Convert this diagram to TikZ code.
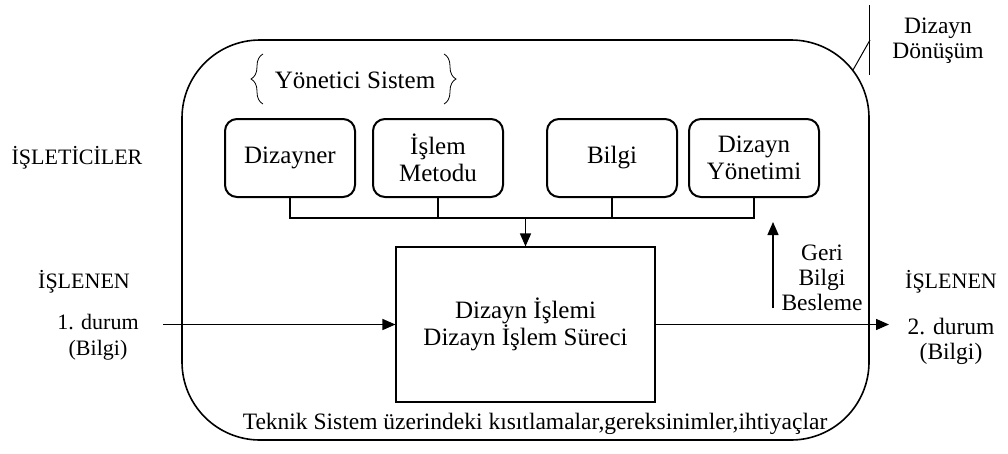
\documentclass[tikz,border=0pt]{standalone}
\usepackage{fontspec}
\setmainfont{Liberation Serif}
\usetikzlibrary{arrows.meta,decorations.pathreplacing}
\begin{document}
\begin{tikzpicture}[x=1pt,y=-1pt,
  every node/.style={font=\fontsize{22}{26}\selectfont, align=center, inner sep=0pt},
  big/.style={font=\fontsize{25}{27}\selectfont},
  mid/.style={font=\fontsize{23.5}{25}\selectfont},
  unitbox/.style={draw, big, line width=2pt, rounded corners=12pt, minimum width=130pt, minimum height=78pt},
  procbox/.style={draw, big, line width=1.1pt, minimum width=259pt, minimum height=155pt},
  frame/.style={draw, line width=1.6pt, rounded corners=78pt, minimum width=687pt, minimum height=400pt},
  link/.style={line width=1.4pt},
  flow/.style={line width=1.4pt, -{Triangle[length=13pt,width=11pt]}},
  curly/.style={decorate, line width=0.8pt, decoration={brace, amplitude=12pt}}]
\useasboundingbox (0,0) rectangle (1008,453);

% outer system boundary
\node[frame] (sys) at (525.5,240) {};

% managing system heading
\node[big] (mgr) at (355,80) {Yönetici Sistem};
\draw[curly] (263,104) -- (263,54);
\draw[curly] (444,54) -- (444,104);

% operators
\node[unitbox] (diz) at (290,158) {Dizayner};
\node[unitbox] (isl) at (438,158) {İşlem\\Metodu};
\node[unitbox] (bil) at (612,158) {Bilgi};
\node[unitbox] (yon) at (754,158) {Dizayn\\Yönetimi};

% central process
\node[procbox] (proc) at (525.5,324.5) {Dizayn İşlemi\\Dizayn İşlem Süreci};

% bus joining the operators
\coordinate (bus) at (525.5,218);
\draw[link] (diz.south) -- (diz.south |- bus) -- (yon.south |- bus) -- (yon.south);
\draw[link] (isl.south) -- (isl.south |- bus);
\draw[link] (bil.south) -- (bil.south |- bus);
\draw[flow] (bus) -- (proc.north);

% operand in and out
\coordinate (inL) at (163,324.5);
\coordinate (outR) at (889,324.5);
\draw[flow] (inL) -- (proc.west);
\draw[flow] (proc.east) -- (outR);

% feedback
\coordinate (fbS) at (773,308);
\coordinate (fbE) at (773,222);
\draw[flow] (fbS) -- (fbE);
\node[mid] (fb) at (822,278) {Geri\\Bilgi\\Besleme};

% side labels
\node (opr) at (77,158) {İŞLETİCİLER};
\node (inA) at (84,282) {İŞLENEN};
\node (inB) at (98,337) {1. durum\\(Bilgi)};
\node (outA) at (951,282) {İŞLENEN};
\node[mid] (outB) at (951,341) {2. durum\\(Bilgi)};

% constraints
\node[mid] (con) at (535,424) {Teknik Sistem üzerindeki kısıtlamalar,gereksinimler,ihtiyaçlar};

% design transformation tag
\coordinate (tagT) at (869,5);
\coordinate (tagB) at (869,75);
\coordinate (tagM) at (870,40);
\coordinate (tagC) at (853,70);
\draw[line width=1pt] (tagT) -- (tagB);
\draw[line width=1pt] (tagM) -- (tagC);
\node[mid] (tag) at (938,41) {Dizayn\\Dönüşüm};
\end{tikzpicture}
\end{document}
